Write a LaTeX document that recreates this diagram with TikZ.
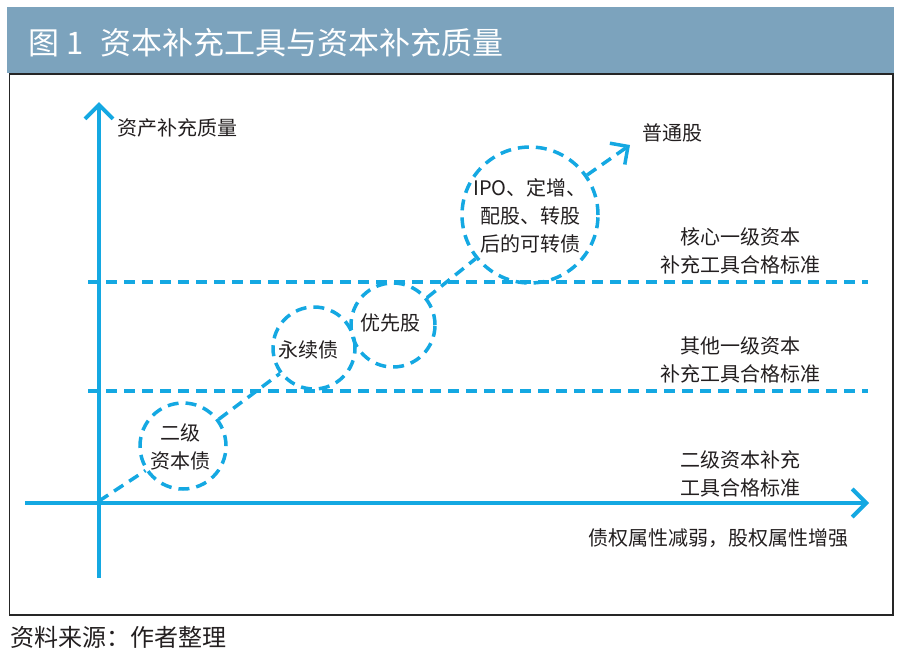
\documentclass[tikz,border=0pt]{standalone}
\usepackage{fontspec}
\setmainfont{Noto Sans CJK SC}
\usetikzlibrary{arrows.meta}
\definecolor{axisblue}{RGB}{20,168,226}
\definecolor{headblue}{RGB}{124,163,189}
\definecolor{txt}{RGB}{35,31,32}
\begin{document}
\begin{tikzpicture}[x=1pt,y=-1pt,
  lbl/.style={font=\fontsize{20}{28}\selectfont, text=txt, inner sep=0pt, align=center},
  axisline/.style={draw=axisblue, line width=4pt, -{Straight Barb[length=14pt,width=28pt]}},
  dashl/.style={draw=axisblue, line width=3.5pt, dash pattern=on 11pt off 7pt},
  bubble/.style={circle, draw=axisblue, line width=3.5pt, dash pattern=on 11pt off 7pt, inner sep=0pt}
]
\useasboundingbox (0,0) rectangle (904,659);
% header and frame
\fill[headblue] (7,7) rectangle (894,73);
\node[anchor=west, text=white, font=\fontsize{31}{36}\selectfont, inner sep=0pt] (title) at (28,43) {图 1\hspace{17pt}资本补充工具与资本补充质量};
\draw[line width=1.5pt, black!85] (9.5,74) rectangle (893,615);
\node[anchor=west, font=\fontsize{24}{28}\selectfont, text=txt, inner sep=0pt] (src) at (10,637) {资料来源：作者整理};

% standard lines
\coordinate (h1a) at (88,282); \coordinate (h1b) at (868,282);
\coordinate (h2a) at (88,391); \coordinate (h2b) at (868,391);
\draw[dashl] (h1a) -- (h1b);
\draw[dashl] (h2a) -- (h2b);

% axes
\coordinate (yb) at (99,578); \coordinate (yt) at (99,102);
\coordinate (xl) at (25,503); \coordinate (xr) at (869,503);
\draw[axisline] (yb) -- (yt);
\draw[axisline] (xl) -- (xr);

% bubbles
\node[bubble, minimum size=86pt] (c1) at (183,446) {};
\node[lbl] (t1) at (180,447) {二级\\资本债};
\node[bubble, minimum size=82pt] (c2) at (314,348) {};
\node[lbl] (t2) at (308,350) {永续债};
\node[bubble, minimum size=84pt] (c3) at (393,325) {};
\node[lbl] (t3) at (390,323) {优先股};
\node[bubble, minimum size=136pt] (c4) at (530,215) {};
\node[lbl] (t4) at (530,216) {IPO、定增、\\配股、转股\\后的可转债};

% path
\coordinate (o) at (99,501);
\coordinate (tip) at (630,145);
\draw[dashl] (o) -- (c1);
\draw[dashl] (c1) -- (c2);
\draw[dashl] (c3) -- (c4);
\draw[dashl, -{Straight Barb[length=13pt,width=26pt]}] (c4) -- (tip);

% labels
\node[lbl] (ylab) at (177,128) {资产补充质量};
\node[lbl] (pt) at (672,133) {普通股};
\node[lbl] (l1) at (740,251) {核心一级资本\\补充工具合格标准};
\node[lbl] (l2) at (740,360) {其他一级资本\\补充工具合格标准};
\node[lbl] (l3) at (740,474) {二级资本补充\\工具合格标准};
\node[lbl] (xlab) at (718,538) {债权属性减弱，股权属性增强};
\end{tikzpicture}
\end{document}
